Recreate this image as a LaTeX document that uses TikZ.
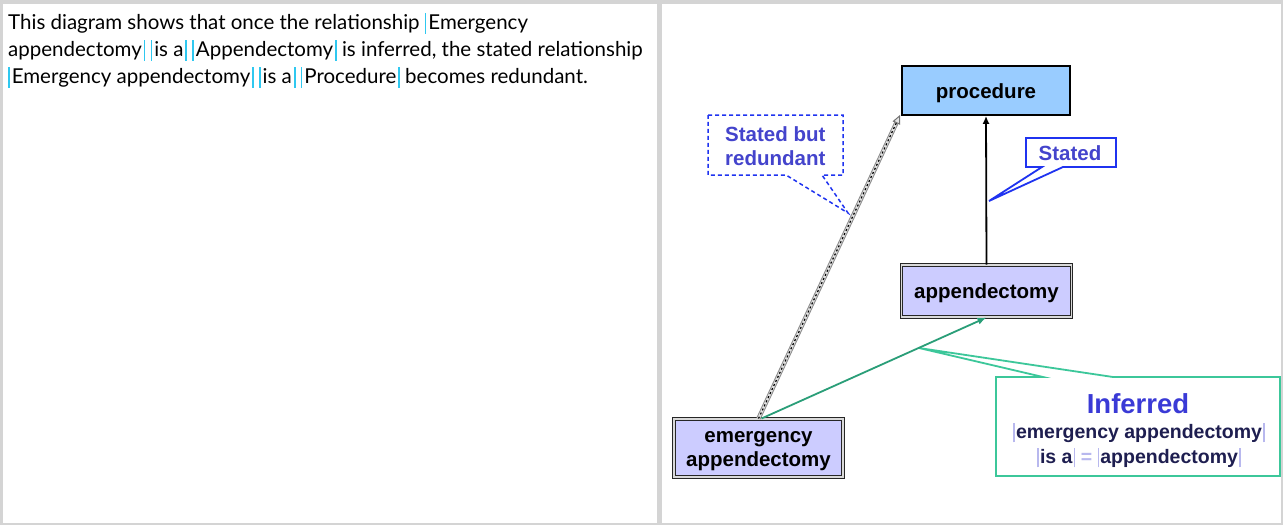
\documentclass[tikz,border=0pt]{standalone}
\usepackage{fontspec}
\setmainfont{Lato}
\newfontfamily\arialfont{Liberation Sans}
\usetikzlibrary{arrows.meta}
\definecolor{framegray}{HTML}{D4D4D4}
\definecolor{cbarcol}{HTML}{2FC8F0}
\definecolor{procblue}{HTML}{99CCFF}
\definecolor{lav}{HTML}{CCCCFF}
\definecolor{callblue}{HTML}{1F33F0}
\definecolor{calltext}{HTML}{4444CC}
\definecolor{inftext}{HTML}{3A3AD6}
\definecolor{navy}{HTML}{1E1E50}
\definecolor{arrgreen}{HTML}{2A9E78}
\definecolor{callgreen}{HTML}{3CC79A}
\definecolor{lavbar}{HTML}{B8B8EE}
\newcommand\cb{\textcolor{cbarcol}{\rule[-4.5pt]{1.6pt}{21pt}}}
\newcommand\cbl{\cb\kern2pt}
\newcommand\cbr{\kern2pt\cb}
\newcommand\lb{\textcolor{lavbar}{\rule[-4pt]{1.8pt}{19pt}}}
\newcommand\lbl{\lb\kern1pt}
\newcommand\lbr{\kern1pt\lb}
\tikzset{
  bodytext/.style={anchor=base west, inner sep=0pt, font=\fontsize{20.5}{24}\selectfont},
  concept/.style={font=\arialfont\bfseries\fontsize{20.5}{24}\selectfont, align=center, inner sep=0pt},
  procbox/.style={draw=black, line width=1.8pt, fill=procblue, minimum width=168pt, minimum height=49pt, inner sep=0pt},
  dblbox/.style={draw=black!85, fill=lav, line width=1pt, double=white!85!black, double distance=1.6pt, inner sep=0pt},
  calltxt/.style={font=\arialfont\bfseries\fontsize{20.5}{24}\selectfont, text=calltext, inner sep=0pt},
}
\begin{document}
\begin{tikzpicture}[x=1pt,y=-1pt]
\useasboundingbox (0,0) rectangle (1283,525);
% frame
\fill[framegray] (0,0) rectangle (1283,525);
\fill[white] (3,4) rectangle (657,523);
\fill[white] (662,4) rectangle (1281,523);
% left text
\node[bodytext] (t1) at (8,29) {This diagram shows that once the relationship \cbl Emergency};
\node[bodytext] (t2) at (8,56) {appendectomy\cbr\ \cbl is a\cbr\ \cbl Appendectomy\cbr\ is inferred, the stated relationship};
\node[bodytext] (t3) at (8,83) {\cbl Emergency appendectomy\cbr\ \cbl is a\cbr\ \cbl Procedure\cbr\ becomes redundant.};
% concept boxes
\node[procbox] (proc) at (986,90.5) {};
\node[concept] (proctxt) at ([yshift=-2.5pt]proc.center) {procedure};
\node[dblbox, minimum width=170pt, minimum height=52pt] (app) at (986.5,291) {};
\node[concept] (apptxt) at ([yshift=-2.5pt]app.center) {appendectomy};
\node[dblbox, minimum width=169pt, minimum height=58pt] (emerg) at (758.5,448) {};
\node[concept] (emergtxt) at ([yshift=-3.5pt]emerg.center) {emergency\\appendectomy};
% callouts
\draw[callblue, line width=1.5pt, dashed, dash pattern=on 4pt off 3pt, fill=white]
  (708,115) -- (843,115) -- (843,175) -- (822,175) -- (848,213) -- (786,175) -- (708,175) -- cycle;
\node[calltxt, anchor=base west] (sbr1) at (725,141) {Stated but};
\node[calltxt, anchor=base west] (sbr2) at (725,165) {redundant};
\draw[callblue, line width=1.8pt, fill=white]
  (1026,138) -- (1116,138) -- (1116,167) -- (1063,167) -- (989,201) -- (1042,167) -- (1026,167) -- cycle;
\node[calltxt] (st) at (1070,153) {Stated};
\draw[callgreen, line width=1.8pt, fill=white]
  (996,377) -- (1043,377) -- (919,348) -- (1113,377) -- (1280,377) -- (1280,476) -- (996,476) -- cycle;
\node[font=\arialfont\bfseries\fontsize{27.5}{30}\selectfont, text=inftext, inner sep=0pt] (inf) at (1138,404) {Inferred};
\node[font=\arialfont\bfseries\fontsize{19.5}{22}\selectfont, text=navy, inner sep=0pt] (inf2) at (1139,433) {\lbl emergency appendectomy\lbr};
\node[font=\arialfont\bfseries\fontsize{19.5}{22}\selectfont, text=navy, inner sep=0pt] (inf3) at (1139,458) {\lbl is a\lbr\ \textcolor{lavbar}{=} \lbl appendectomy\lbr};
% connectors
\coordinate (tipg) at ([xshift=-1pt,yshift=1pt]proc.south west);
\draw[black, line width=1.8pt, -{Latex[length=8pt,width=7pt]}] (app.north) -- (proc.south);
\draw[black!45, line width=4.5pt, shorten >=7pt] (emerg.north) -- (tipg);
\draw[white!88!black, line width=2.5pt, shorten >=7pt] (emerg.north) -- (tipg);
\draw[black, line width=1.2pt, dash pattern=on 2pt off 2.5pt, -{Triangle[open,length=9pt,width=8pt,line width=1pt,fill=white!90!black,color=black!55]}] (emerg.north) -- (tipg);
\draw[arrgreen, line width=1.8pt, -{Latex[length=9pt,width=7pt]}] ([xshift=3pt]emerg.north) -- (app.south);
\end{tikzpicture}
\end{document}
